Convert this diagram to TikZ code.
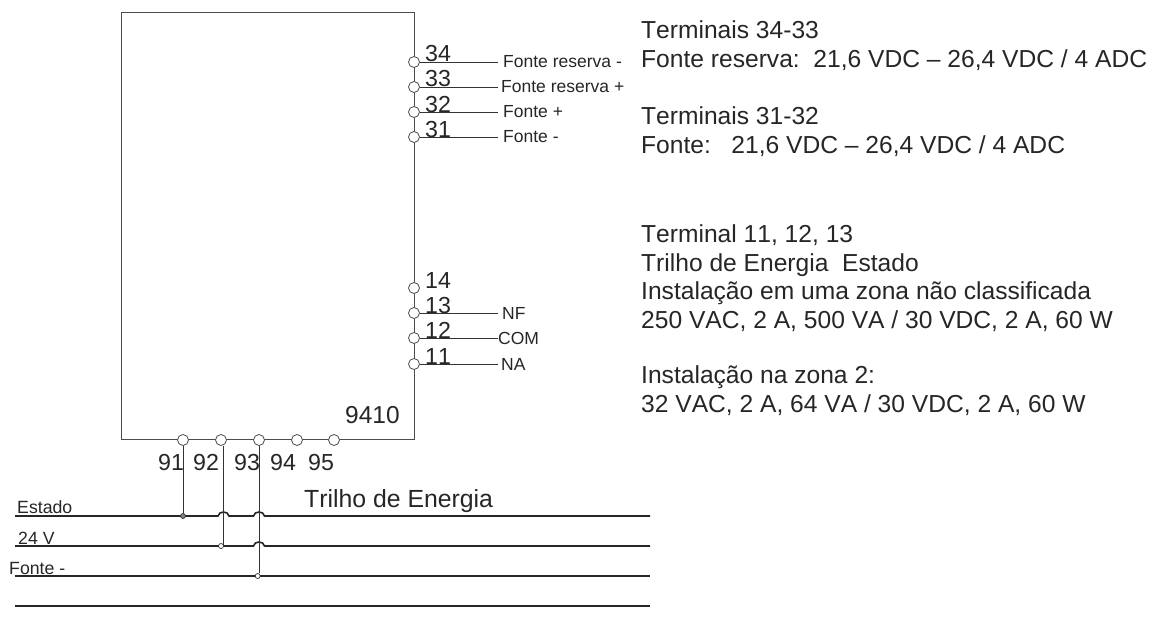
\documentclass[tikz,border=0pt]{standalone}
\usepackage{fontspec}
\setmainfont[Kerning=Off]{Liberation Sans}
\usetikzlibrary{positioning, calc}

\tikzset{
    terminal/.style={circle, draw=black!70, fill=white, line width=0.8pt, minimum size=11pt, inner sep=0pt},
    raildot/.style={circle, draw=black!80, fill=white, line width=0.7pt, minimum size=5pt, inner sep=0pt},
    wire/.style={draw=black!80, line width=0.9pt},
    rail/.style={draw=black!85, line width=1.6pt},
    numlabel/.style={font=\fontsize{23.2}{24}\selectfont, text=black!85, inner sep=0pt, anchor=base west},
    sidelabel/.style={font=\fontsize{17.5}{18}\selectfont, text=black!85, inner sep=0pt, right=5pt of #1},
    buslabel/.style={font=\fontsize{17.7}{20}\selectfont, text=black!85, inner sep=0pt, anchor=base west},
    infotext/.style={font=\fontsize{24.6}{28.7}\selectfont, text=black!85, inner sep=0pt, align=left, anchor=north west}
}

\begin{document}
\begin{tikzpicture}[x=1pt, y=-1pt]
    \useasboundingbox (0,0) rectangle (1154,634);

    % Module outline
    \node[draw=black!70, line width=0.9pt, minimum width=293pt, minimum height=427pt, inner sep=0pt, anchor=north west] (module) at (121,12) {};
    \node[numlabel, font=\fontsize{24.5}{26}\selectfont] (type) at (345,423) {9410};

    % Terminals on the right side
    \foreach \num/\ypos in {34/62, 33/87, 32/112, 31/137, 14/288, 13/313, 12/338, 11/364} {
        \node[terminal] (t\num) at (414,\ypos) {};
        \node[numlabel] (n\num) at ($(t\num)+(11,0)$) {\num};
    }

    % Terminals on the bottom side
    \foreach \num/\xpos/\xnum in {91/183/158, 92/221/193, 93/259/234, 94/297/270, 95/334/308} {
        \node[terminal] (t\num) at (\xpos,440) {};
        \node[numlabel] (n\num) at (\xnum,470) {\num};
    }

    % Outgoing wires and their labels
    \foreach \num in {34, 33, 32, 31, 13, 12, 11} {
        \coordinate (e\num) at (498,0 |- t\num);
        \draw[wire] (t\num) -- (e\num);
    }
    \node[sidelabel=e34] (l34) {Fonte reserva -};
    \node[sidelabel=e33, xshift=-2pt] (l33) {Fonte reserva +};
    \node[sidelabel=e32] (l32) {Fonte +};
    \node[sidelabel=e31] (l31) {Fonte -};
    \node[sidelabel=e13, xshift=-1pt] (l13) {NF};
    \node[sidelabel=e12, xshift=-5pt] (l12) {COM};
    \node[sidelabel=e11, xshift=-2pt] (l11) {NA};

    % Power rail
    \coordinate (railA) at (15,516);
    \coordinate (railB) at (15,546);
    \coordinate (railC) at (15,576);
    \coordinate (railD) at (15,606);
    \coordinate (railAend) at (650,516);
    \coordinate (railBend) at (650,546);
    \coordinate (railCend) at (650,576);
    \coordinate (railDend) at (650,606);

    \draw[rail] (railA) -- (218,516) to[out=80, in=180] (223.5,512) to[out=0, in=100] (229,516)
        -- (253.5,516) to[out=80, in=180] (259,512) to[out=0, in=100] (264.5,516) -- (railAend);
    \draw[rail] (railB) -- (253.5,546) to[out=80, in=180] (259,542) to[out=0, in=100] (264.5,546) -- (railBend);
    \draw[rail] (railC) -- (railCend);
    \draw[rail] (railD) -- (railDend);

    \node[buslabel] (lA) at (17,513) {Estado};
    \node[buslabel] (lB) at (18,544) {24 V};
    \node[buslabel] (lC) at (9,574) {Fonte -};
    \node[font=\fontsize{24.8}{26}\selectfont, text=black!85, inner sep=0pt, anchor=base west] (trilho) at (304,507) {Trilho de Energia};

    % Drops from the bottom terminals to the rail
    \node[raildot, fill=black!50] (d91) at (183,516) {};
    \node[raildot] (d92) at (221,546) {};
    \node[raildot] (d93) at (257.7,576) {};
    \draw[wire] (t91) -- (d91);
    \draw[wire] ([xshift=2.5pt]t92.south) -- ([xshift=2.5pt]d92.center);
    \draw[wire] (t93) -- ([xshift=1.3pt]d93.north);

    % Ratings
    \node[infotext] (info1) at (641,20.5) {Terminais 34-33\\Fonte reserva:~~21,6 VDC – 26,4 VDC / 4 ADC};
    \node[infotext] (info2) at (641,106.5) {Terminais 31-32\\Fonte:~~~21,6 VDC – 26,4 VDC / 4 ADC};
    \node[infotext] (info3) at (641,224.5) {Terminal 11, 12, 13\\Trilho de Energia~~Estado\\Instalação em uma zona não classificada\\250 VAC, 2 A, 500 VA / 30 VDC, 2 A, 60 W};
    \node[infotext] (info4) at (641,365.5) {Instalação na zona 2:\\32 VAC, 2 A, 64 VA / 30 VDC, 2 A, 60 W};
\end{tikzpicture}
\end{document}
